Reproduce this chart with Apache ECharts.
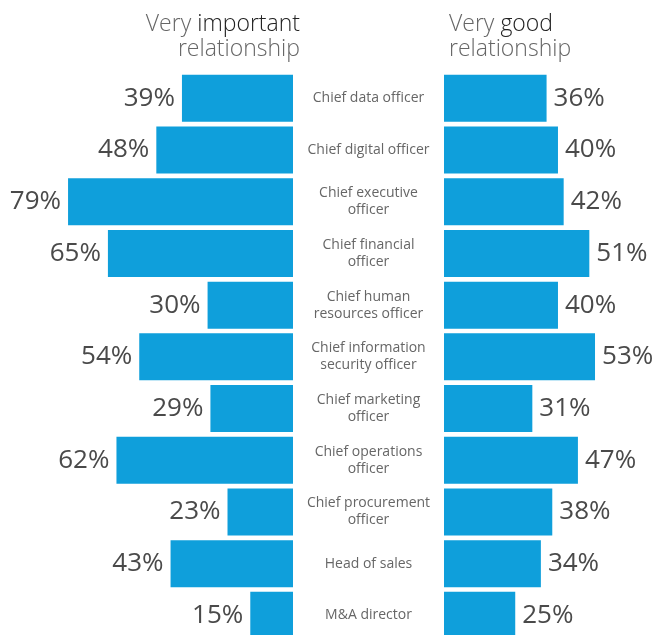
<!DOCTYPE html>
<html>
<head>
<meta charset="utf-8">
<script src="https://cdn.jsdelivr.net/npm/echarts@6/dist/echarts.min.js"></script>
<style>
  html, body { margin: 0; padding: 0; background: #fff; }
  #chart { width: 654px; height: 635px; }
</style>
</head>
<body>
<div id="chart"></div>
<script>
// roles, top to bottom
const roles = [
  'Chief data officer',
  'Chief digital officer',
  'Chief executive\nofficer',
  'Chief financial\nofficer',
  'Chief human\nresources officer',
  'Chief information\nsecurity officer',
  'Chief marketing\nofficer',
  'Chief operations\nofficer',
  'Chief procurement\nofficer',
  'Head of sales',
  'M&A director'
];
// % saying the relationship is very important
const importantVals = [39, 48, 79, 65, 30, 54, 29, 62, 23, 43, 15];
// % saying the relationship is very good
const goodVals = [36, 40, 42, 51, 40, 53, 31, 47, 38, 34, 25];

const blue = '#0f9fdb';
const font = '"Open Sans", sans-serif';

const valueLabel = pos => ({
  show: true,
  position: pos,
  distance: 7,
  formatter: '{c}%',
  fontFamily: font,
  fontSize: 26,
  color: '#4a4a4a'
});

const hiddenAxis = {
  axisLine: { show: false },
  axisTick: { show: false },
  splitLine: { show: false },
  axisLabel: { show: false }
};

const titleRich = {
  a: { fontFamily: font, fontSize: 23, fontWeight: 300, color: '#666', lineHeight: 25 },
  b: { fontFamily: font, fontSize: 23, fontWeight: 300, color: '#222', lineHeight: 25 }
};

const chart = echarts.init(document.getElementById('chart'));
chart.setOption({
  animation: false,
  backgroundColor: '#fff',
  title: [
    {
      text: '{a|Very }{b|important}\n{a|relationship}',
      left: 295, top: 7, textAlign: 'right',
      textStyle: { align: 'right', rich: titleRich }
    },
    {
      text: '{a|Very }{b|good}\n{a|relationship}',
      left: 444, top: 7,
      textStyle: { rich: titleRich }
    }
  ],
  grid: [
    { left: 0, width: 293, top: 72.5, height: 568.7, outerBoundsMode: 'none' },
    { left: 444, width: 210, top: 72.5, height: 568.7, outerBoundsMode: 'none' }
  ],
  xAxis: [
    Object.assign({ type: 'value', gridIndex: 0, min: 0, max: 102.9, inverse: true }, hiddenAxis),
    Object.assign({ type: 'value', gridIndex: 1, min: 0, max: 73.7 }, hiddenAxis)
  ],
  yAxis: [
    Object.assign({ type: 'category', gridIndex: 0, data: roles, inverse: true, position: 'right' }, hiddenAxis),
    {
      type: 'category', gridIndex: 1, data: roles, inverse: true, position: 'left',
      axisLine: { show: false },
      axisTick: { show: false },
      splitLine: { show: false },
      axisLabel: {
        show: true,
        margin: 75.5,
        align: 'center',
        fontFamily: font,
        fontSize: 14,
        lineHeight: 17,
        color: '#666'
      }
    }
  ],
  series: [
    {
      name: 'Very important relationship',
      type: 'bar', xAxisIndex: 0, yAxisIndex: 0,
      data: importantVals,
      barWidth: 47,
      itemStyle: { color: blue },
      label: valueLabel('left')
    },
    {
      name: 'Very good relationship',
      type: 'bar', xAxisIndex: 1, yAxisIndex: 1,
      data: goodVals,
      barWidth: 47,
      itemStyle: { color: blue },
      label: valueLabel('right')
    }
  ]
});
</script>
</body>
</html>
